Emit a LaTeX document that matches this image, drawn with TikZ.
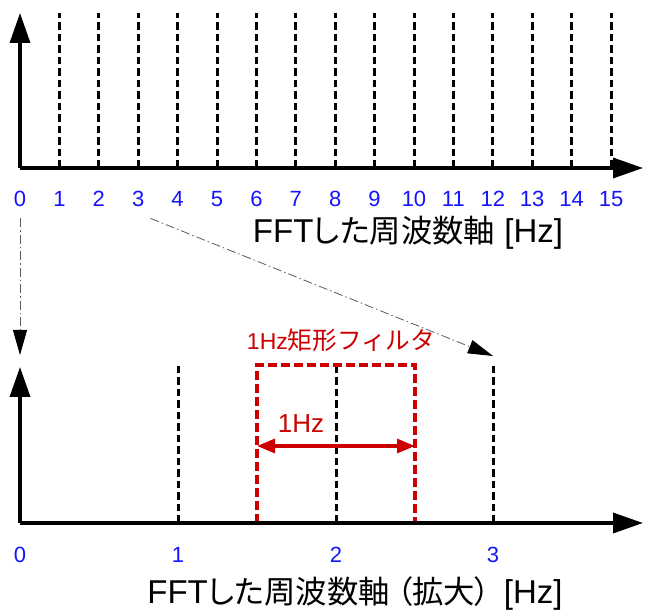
\documentclass[tikz,border=0pt]{standalone}
\usepackage{fontspec}
\setmainfont{Liberation Sans}
\newfontfamily\cjkp[Scale=0.95,RawFeature=+palt]{Noto Sans CJK JP}
\newfontfamily\cjkf[Scale=1.07]{Noto Sans CJK JP}
\usetikzlibrary{arrows.meta}
\definecolor{lblblue}{RGB}{20,20,255}
\definecolor{fred}{RGB}{204,0,0}
\begin{document}
\begin{tikzpicture}[x=1pt,y=-1pt,
  axis/.style={line width=3.5pt,-{Triangle[length=30pt,width=20pt]}},
  tickline/.style={line width=3pt,dash pattern=on 7.5pt off 4pt},
  num/.style={text=lblblue,font=\fontsize{22}{22}\selectfont,anchor=base,inner sep=0pt},
  titletext/.style={font=\fontsize{33}{33}\selectfont,anchor=base,inner sep=0pt},
  redtext/.style={text=fred,font=\fontsize{23}{23}\selectfont,anchor=base,inner sep=0pt},
  zoomarrow/.style={line width=0.8pt,draw=black!65,dash pattern=on 9pt off 3pt on 1.5pt off 3pt,-{Triangle[length=25pt,width=14pt,color=black]}},
  filterbox/.style={draw=fred,line width=3.2pt,dash pattern=on 9pt off 4pt},
  widtharrow/.style={draw=fred,line width=3.2pt,{Triangle[length=18pt,width=14pt]}-{Triangle[length=18pt,width=14pt]}}
]
\useasboundingbox (0,0) rectangle (646,612);

% ---------- top axis ----------
\coordinate (o1) at (20,168);
\coordinate (y1) at (20,13);
\coordinate (x1) at (643,168);
\foreach \i in {1,...,15}{
  \coordinate (tb\i) at ({20+39.4*\i},168);
  \coordinate (tt\i) at ({20+39.4*\i},13);
  \draw[tickline] (tb\i) -- (tt\i);
}
\draw[axis] (o1) -- (y1);
\draw[axis] (o1) -- (x1);
\foreach \i in {0,...,15}{
  \node[num] (n\i) at ({20+39.4*\i},207) {\i};
}
\node[titletext] (t1) at (408,243) {FFT{\cjkp した周波数軸} [Hz]};

% ---------- bottom axis ----------
\coordinate (o2) at (20,523);
\coordinate (y2) at (20,367);
\coordinate (x2) at (643,523);
\foreach \i/\xx in {1/178,2/336,3/493}{
  \coordinate (bb\i) at (\xx,523);
  \coordinate (bt\i) at (\xx,366);
  \draw[tickline] (bb\i) -- (bt\i);
}
\coordinate (r1) at (257,523);
\coordinate (r2) at (257,365);
\coordinate (r3) at (415,365);
\coordinate (r4) at (415,523);
\draw[filterbox] (r1) -- (r2) -- (r3) -- (r4);
\draw[axis] (o2) -- (y2);
\draw[axis] (o2) -- (x2);
\foreach \i/\xx in {0/20,1/178,2/336,3/493}{
  \node[num] (m\i) at (\xx,562) {\i};
}
\node[titletext] (t2) at (355,603) {FFT{\cjkp した周波数軸\hspace{7pt}（拡大）\hspace{4pt}} [Hz]};

% ---------- filter annotation ----------
\coordinate (wl) at (257,446);
\coordinate (wr) at (415,446);
\draw[widtharrow] (wl) -- (wr);
\node[redtext,font=\fontsize{26}{26}\selectfont] (w) at (301,433) {1Hz};
\node[redtext] (f) at (341,350) {1Hz{\cjkf 矩形フィルタ}};

% ---------- zoom connectors ----------
\coordinate (d0) at (20,355);
\coordinate (d3) at (493,356);
\draw[zoomarrow] ([yshift=-11pt]n0.south) -- (d0);
\draw[zoomarrow] ([xshift=6pt,yshift=-11pt]n3.south east) -- (d3);
\end{tikzpicture}
\end{document}
